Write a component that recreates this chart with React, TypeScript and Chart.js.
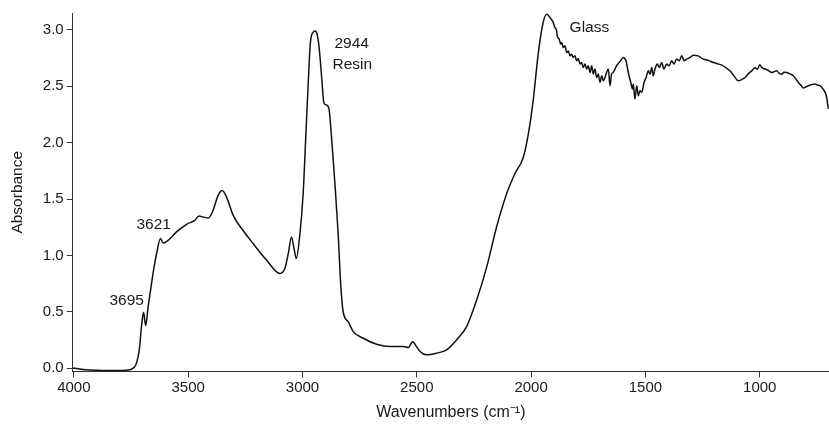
import React, { useEffect, useRef } from "react";
import { Chart, registerables } from "chart.js";

Chart.register(...registerables);

// Wavenumbers (cm-1), high to low
const wavenumbers: number[] = [
  4005, 3980, 3950, 3900, 3850, 3800, 3770, 3748, 3735, 3726, 3714, 3704, 3695, 3686, 3675,
  3660, 3649, 3638, 3621, 3609, 3587, 3551, 3507, 3471, 3453, 3434, 3412, 3391, 3369, 3351,
  3332, 3303, 3266, 3216, 3157, 3099, 3077, 3062, 3048, 3036, 3027, 3011, 2997, 2985, 2975,
  2966, 2955, 2944, 2936, 2927, 2916, 2906, 2896, 2884, 2874, 2858, 2844, 2833, 2822, 2800,
  2778, 2734, 2676, 2617, 2559, 2537, 2518, 2501, 2486, 2458, 2413, 2369, 2326, 2282, 2238,
  2194, 2151, 2107, 2071, 2034, 2012, 1991, 1969, 1949, 1932, 1917, 1903, 1896, 1888, 1886,
  1877, 1871, 1866, 1859, 1852, 1844, 1837, 1830, 1823, 1816, 1808, 1801, 1794, 1786, 1779,
  1772, 1764, 1757, 1750, 1742, 1735, 1728, 1721, 1713, 1706, 1699, 1691, 1684, 1677, 1670,
  1662, 1655, 1648, 1641, 1626, 1611, 1597, 1585, 1575, 1564, 1556, 1553, 1546, 1538, 1531,
  1524, 1516, 1506, 1497, 1487, 1480, 1472, 1466, 1458, 1448, 1439, 1429, 1419, 1407, 1396,
  1385, 1375, 1363, 1352, 1341, 1331, 1319, 1305, 1291, 1269, 1247, 1225, 1203, 1185, 1166,
  1148, 1130, 1112, 1094, 1079, 1064, 1050, 1035, 1020, 1010, 1000, 990, 977, 962, 948,
  937, 926, 915, 904, 893, 882, 868, 853, 842, 831, 820, 809, 798, 787, 772,
  758, 747, 736, 725, 714, 707, 700,
];

// Absorbance at each wavenumber
const absorbance: number[] = [
  0.0, -0.006, -0.014, -0.02, -0.022, -0.022, -0.018, -0.01, 0.01, 0.044, 0.16, 0.37, 0.495, 0.377, 0.545,
  0.754, 0.898, 1.017, 1.149, 1.11, 1.134, 1.208, 1.276, 1.311, 1.349, 1.34, 1.332, 1.4, 1.532, 1.576,
  1.517, 1.355, 1.238, 1.105, 0.958, 0.84, 0.884, 1.017, 1.164, 1.05, 0.973, 1.194, 1.547, 2.078, 2.52,
  2.874, 2.975, 2.99, 2.96, 2.843, 2.578, 2.35, 2.335, 2.3, 2.078, 1.636, 1.194, 0.752, 0.5, 0.412,
  0.324, 0.265, 0.212, 0.191, 0.191, 0.182, 0.235, 0.191, 0.147, 0.118, 0.133, 0.162, 0.25, 0.368, 0.604,
  0.898, 1.252, 1.547, 1.724, 1.871, 2.078, 2.372, 2.785, 3.05, 3.139, 3.109, 3.065, 3.02, 2.991, 2.947,
  2.918, 2.874, 2.888, 2.843, 2.859, 2.799, 2.814, 2.77, 2.785, 2.755, 2.77, 2.726, 2.746, 2.697, 2.711,
  2.667, 2.697, 2.653, 2.682, 2.622, 2.682, 2.608, 2.653, 2.578, 2.608, 2.534, 2.593, 2.549, 2.578, 2.622,
  2.653, 2.505, 2.608, 2.622, 2.682, 2.72, 2.755, 2.726, 2.622, 2.534, 2.476, 2.52, 2.387, 2.505, 2.416,
  2.461, 2.446, 2.534, 2.578, 2.637, 2.608, 2.667, 2.593, 2.653, 2.697, 2.667, 2.711, 2.653, 2.697, 2.682,
  2.726, 2.697, 2.741, 2.726, 2.77, 2.726, 2.741, 2.755, 2.776, 2.77, 2.741, 2.73, 2.711, 2.7, 2.688,
  2.665, 2.637, 2.59, 2.549, 2.56, 2.578, 2.61, 2.637, 2.665, 2.65, 2.69, 2.665, 2.653, 2.64, 2.622,
  2.63, 2.637, 2.615, 2.608, 2.625, 2.622, 2.61, 2.593, 2.565, 2.534, 2.51, 2.485, 2.495, 2.505, 2.515,
  2.52, 2.51, 2.505, 2.48, 2.446, 2.4, 2.299,
];

const xTickValues: number[] = [4000, 3500, 3000, 2500, 2000, 1500, 1000];
const yTickValues: number[] = [0, 0.5, 1.0, 1.5, 2.0, 2.5, 3.0];

// Band labels, anchored in data units (wavenumber, absorbance)
const bandLabels: string[] = ["3695", "3621", "2944", "Resin", "Glass"];
const bandLabelX: number[] = [3769, 3651, 2785, 2782, 1745];
const bandLabelY: number[] = [0.597, 1.271, 2.874, 2.693, 3.02];

const FONT = "'Liberation Sans', Arial, Helvetica, sans-serif";
const AXIS_COLOR = "#333333";
const TEXT_COLOR = "#1a1a1a";

const bandLabelPlugin = {
  id: "bandLabels",
  afterDatasetsDraw(chart: any) {
    const { ctx, scales } = chart;
    ctx.save();
    ctx.fillStyle = TEXT_COLOR;
    ctx.font = `15.5px ${FONT}`;
    ctx.textAlign = "center";
    ctx.textBaseline = "middle";
    bandLabels.forEach((text, i) => {
      const px = scales.x.getPixelForValue(bandLabelX[i]);
      const py = scales.y.getPixelForValue(bandLabelY[i]);
      ctx.fillText(text, px, py);
    });
    ctx.restore();
  },
};

export default function App() {
  const canvasRef = useRef<HTMLCanvasElement | null>(null);

  useEffect(() => {
    const canvas = canvasRef.current;
    if (!canvas) return;
    const points = wavenumbers.map((w, i) => ({ x: w, y: absorbance[i] }));

    const chart = new Chart(canvas, {
      type: "line",
      data: {
        datasets: [
          {
            data: points,
            borderColor: "#111111",
            borderWidth: 1.5,
            pointRadius: 0,
            fill: false,
            cubicInterpolationMode: "monotone",
          },
        ],
      },
      options: {
        animation: false,
        responsive: false,
        devicePixelRatio: 1,
        layout: { padding: { top: 13, left: 0, right: 0, bottom: 0 } },
        plugins: {
          legend: { display: false },
          tooltip: { enabled: false },
        },
        scales: {
          x: {
            type: "linear",
            reverse: true,
            min: 697,
            max: 4005,
            afterBuildTicks: (scale: any) => {
              scale.ticks = xTickValues.map((v) => ({ value: v }));
            },
            afterFit: (scale: any) => {
              scale.height = 55.5;
            },
            border: { display: true, color: AXIS_COLOR, width: 1 },
            grid: {
              display: true,
              drawOnChartArea: false,
              drawTicks: true,
              tickLength: 6,
              color: AXIS_COLOR,
            },
            ticks: {
              color: TEXT_COLOR,
              font: { family: FONT, size: 15 },
              padding: 1,
              maxRotation: 0,
              autoSkip: false,
              callback: (v: any) => String(v),
            },
            title: {
              display: true,
              text: "Wavenumbers (cm⁻¹)",
              color: TEXT_COLOR,
              font: { family: FONT, size: 16 },
              padding: { top: 0, bottom: 4.4 },
            },
          },
          y: {
            type: "linear",
            min: -0.03,
            max: 3.15,
            afterBuildTicks: (scale: any) => {
              scale.ticks = yTickValues.map((v) => ({ value: v }));
            },
            afterFit: (scale: any) => {
              scale.width = 72.7;
            },
            border: { display: true, color: AXIS_COLOR, width: 1 },
            grid: {
              display: true,
              drawOnChartArea: false,
              drawTicks: true,
              tickLength: 6,
              color: AXIS_COLOR,
            },
            ticks: {
              color: TEXT_COLOR,
              font: { family: FONT, size: 15 },
              padding: 3,
              autoSkip: false,
              callback: (v: any) => Number(v).toFixed(1),
            },
            title: {
              display: true,
              text: "Absorbance",
              color: TEXT_COLOR,
              font: { family: FONT, size: 15.5 },
              padding: { top: 8.7, bottom: 0 },
            },
          },
        },
      },
      plugins: [bandLabelPlugin],
    });

    return () => chart.destroy();
  }, []);

  return (
    <div
      style={{
        position: "fixed",
        left: 0,
        top: 0,
        width: 829,
        height: 427,
        background: "#ffffff",
      }}
    >
      <canvas ref={canvasRef} width={829} height={427} style={{ display: "block" }} />
    </div>
  );
}
